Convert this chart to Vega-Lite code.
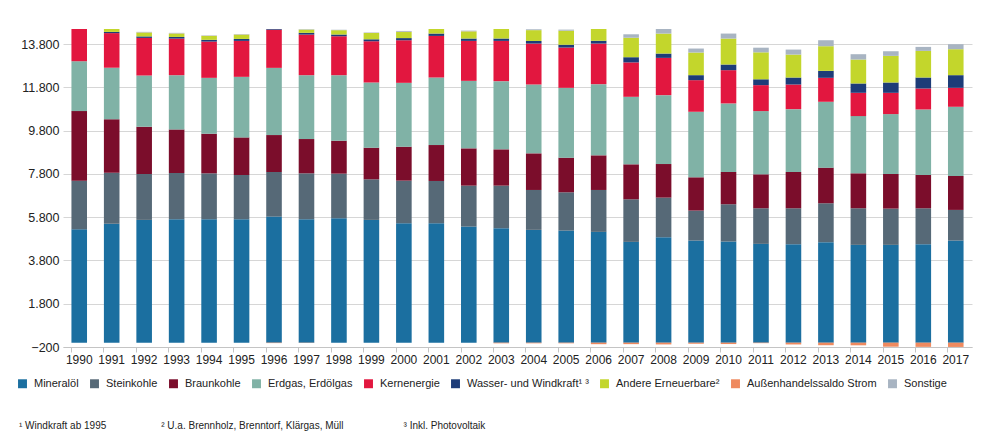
{
  "$schema": "https://vega.github.io/schema/vega-lite/v6.json",
  "width": 909,
  "height": 318,
  "autosize": {"type": "none"},
  "padding": {"left": 63, "top": 29, "right": 17, "bottom": 98},
  "background": "white",
  "config": {
    "locale": {"number": {"decimal": ",", "thousands": ".", "grouping": [3], "currency": ["", " €"]}},
    "font": "Liberation Sans, Arial, sans-serif",
    "view": {"stroke": null}
  },
  "title": {
    "text": "¹ Windkraft ab 1995\u2003\u2003\u2003\u2003\u2003\u2002² U.a. Brennholz, Brenntorf, Klärgas, Müll\u2003\u2003\u2003\u2003\u2003\u2003³ Inkl. Photovoltaik",
    "orient": "bottom",
    "anchor": "start",
    "frame": "group",
    "dx": -44,
    "offset": 32,
    "fontSize": 10,
    "fontWeight": "normal",
    "color": "#222"
  },
  "datasets": {
    "sources": [
      {"rank": 1, "source": "Mineralöl"},
      {"rank": 2, "source": "Steinkohle"},
      {"rank": 3, "source": "Braunkohle"},
      {"rank": 4, "source": "Erdgas, Erdölgas"},
      {"rank": 5, "source": "Kernenergie"},
      {"rank": 6, "source": "Wasser- und Windkraft¹ ³"},
      {"rank": 7, "source": "Andere Erneuerbare²"},
      {"rank": 8, "source": "Außenhandelssaldo Strom"},
      {"rank": 9, "source": "Sonstige"}
    ]
  },
  "data": {
    "values": [
      {"year":"1990","rank":1,"value":5240},{"year":"1990","rank":2,"value":2250},{"year":"1990","rank":3,"value":3215},{"year":"1990","rank":4,"value":2305},{"year":"1990","rank":5,"value":1668},{"year":"1990","rank":6,"value":58},{"year":"1990","rank":7,"value":140},{"year":"1990","rank":8,"value":3},{"year":"1990","rank":9,"value":25},
      {"year":"1991","rank":1,"value":5500},{"year":"1991","rank":2,"value":2350},{"year":"1991","rank":3,"value":2480},{"year":"1991","rank":4,"value":2380},{"year":"1991","rank":5,"value":1600},{"year":"1991","rank":6,"value":56},{"year":"1991","rank":7,"value":150},{"year":"1991","rank":8,"value":3},{"year":"1991","rank":9,"value":20},
      {"year":"1992","rank":1,"value":5675},{"year":"1992","rank":2,"value":2123},{"year":"1992","rank":3,"value":2184},{"year":"1992","rank":4,"value":2368},{"year":"1992","rank":5,"value":1738},{"year":"1992","rank":6,"value":70},{"year":"1992","rank":7,"value":180},{"year":"1992","rank":8,"value":5},{"year":"1992","rank":9,"value":25},
      {"year":"1993","rank":1,"value":5706},{"year":"1993","rank":2,"value":2138},{"year":"1993","rank":3,"value":2014},{"year":"1993","rank":4,"value":2507},{"year":"1993","rank":5,"value":1692},{"year":"1993","rank":6,"value":75},{"year":"1993","rank":7,"value":160},{"year":"1993","rank":8,"value":5},{"year":"1993","rank":9,"value":25},
      {"year":"1994","rank":1,"value":5706},{"year":"1994","rank":2,"value":2122},{"year":"1994","rank":3,"value":1831},{"year":"1994","rank":4,"value":2583},{"year":"1994","rank":5,"value":1677},{"year":"1994","rank":6,"value":80},{"year":"1994","rank":7,"value":180},{"year":"1994","rank":8,"value":5},{"year":"1994","rank":9,"value":20},
      {"year":"1995","rank":1,"value":5706},{"year":"1995","rank":2,"value":2046},{"year":"1995","rank":3,"value":1738},{"year":"1995","rank":4,"value":2799},{"year":"1995","rank":5,"value":1661},{"year":"1995","rank":6,"value":90},{"year":"1995","rank":7,"value":200},{"year":"1995","rank":8,"value":5},{"year":"1995","rank":9,"value":20},
      {"year":"1996","rank":1,"value":5829},{"year":"1996","rank":2,"value":2061},{"year":"1996","rank":3,"value":1707},{"year":"1996","rank":4,"value":3107},{"year":"1996","rank":5,"value":1764},{"year":"1996","rank":6,"value":80},{"year":"1996","rank":7,"value":190},{"year":"1996","rank":8,"value":-20},{"year":"1996","rank":9,"value":20},
      {"year":"1997","rank":1,"value":5706},{"year":"1997","rank":2,"value":2122},{"year":"1997","rank":3,"value":1585},{"year":"1997","rank":4,"value":2952},{"year":"1997","rank":5,"value":1877},{"year":"1997","rank":6,"value":80},{"year":"1997","rank":7,"value":150},{"year":"1997","rank":8,"value":-10},{"year":"1997","rank":9,"value":20},
      {"year":"1998","rank":1,"value":5752},{"year":"1998","rank":2,"value":2061},{"year":"1998","rank":3,"value":1523},{"year":"1998","rank":4,"value":3029},{"year":"1998","rank":5,"value":1800},{"year":"1998","rank":6,"value":80},{"year":"1998","rank":7,"value":200},{"year":"1998","rank":8,"value":0},{"year":"1998","rank":9,"value":20},
      {"year":"1999","rank":1,"value":5675},{"year":"1999","rank":2,"value":1877},{"year":"1999","rank":3,"value":1461},{"year":"1999","rank":4,"value":3014},{"year":"1999","rank":5,"value":1907},{"year":"1999","rank":6,"value":90},{"year":"1999","rank":7,"value":290},{"year":"1999","rank":8,"value":5},{"year":"1999","rank":9,"value":20},
      {"year":"2000","rank":1,"value":5521},{"year":"2000","rank":2,"value":1969},{"year":"2000","rank":3,"value":1569},{"year":"2000","rank":4,"value":2953},{"year":"2000","rank":5,"value":1968},{"year":"2000","rank":6,"value":100},{"year":"2000","rank":7,"value":280},{"year":"2000","rank":8,"value":10},{"year":"2000","rank":9,"value":40},
      {"year":"2001","rank":1,"value":5521},{"year":"2001","rank":2,"value":1954},{"year":"2001","rank":3,"value":1661},{"year":"2001","rank":4,"value":3122},{"year":"2001","rank":5,"value":1922},{"year":"2001","rank":6,"value":110},{"year":"2001","rank":7,"value":300},{"year":"2001","rank":8,"value":10},{"year":"2001","rank":9,"value":30},
      {"year":"2002","rank":1,"value":5368},{"year":"2002","rank":2,"value":1891},{"year":"2002","rank":3,"value":1723},{"year":"2002","rank":4,"value":3122},{"year":"2002","rank":5,"value":1846},{"year":"2002","rank":6,"value":110},{"year":"2002","rank":7,"value":330},{"year":"2002","rank":8,"value":5},{"year":"2002","rank":9,"value":30},
      {"year":"2003","rank":1,"value":5291},{"year":"2003","rank":2,"value":1968},{"year":"2003","rank":3,"value":1677},{"year":"2003","rank":4,"value":3153},{"year":"2003","rank":5,"value":1861},{"year":"2003","rank":6,"value":110},{"year":"2003","rank":7,"value":450},{"year":"2003","rank":8,"value":-30},{"year":"2003","rank":9,"value":40},
      {"year":"2004","rank":1,"value":5214},{"year":"2004","rank":2,"value":1845},{"year":"2004","rank":3,"value":1692},{"year":"2004","rank":4,"value":3184},{"year":"2004","rank":5,"value":1892},{"year":"2004","rank":6,"value":120},{"year":"2004","rank":7,"value":500},{"year":"2004","rank":8,"value":-30},{"year":"2004","rank":9,"value":40},
      {"year":"2005","rank":1,"value":5183},{"year":"2005","rank":2,"value":1769},{"year":"2005","rank":3,"value":1599},{"year":"2005","rank":4,"value":3230},{"year":"2005","rank":5,"value":1861},{"year":"2005","rank":6,"value":130},{"year":"2005","rank":7,"value":650},{"year":"2005","rank":8,"value":-30},{"year":"2005","rank":9,"value":50},
      {"year":"2006","rank":1,"value":5122},{"year":"2006","rank":2,"value":1937},{"year":"2006","rank":3,"value":1600},{"year":"2006","rank":4,"value":3291},{"year":"2006","rank":5,"value":1877},{"year":"2006","rank":6,"value":130},{"year":"2006","rank":7,"value":700},{"year":"2006","rank":8,"value":-70},{"year":"2006","rank":9,"value":50},
      {"year":"2007","rank":1,"value":4660},{"year":"2007","rank":2,"value":1969},{"year":"2007","rank":3,"value":1615},{"year":"2007","rank":4,"value":3122},{"year":"2007","rank":5,"value":1590},{"year":"2007","rank":6,"value":240},{"year":"2007","rank":7,"value":900},{"year":"2007","rank":8,"value":-68},{"year":"2007","rank":9,"value":160},
      {"year":"2008","rank":1,"value":4875},{"year":"2008","rank":2,"value":1830},{"year":"2008","rank":3,"value":1553},{"year":"2008","rank":4,"value":3184},{"year":"2008","rank":5,"value":1723},{"year":"2008","rank":6,"value":200},{"year":"2008","rank":7,"value":923},{"year":"2008","rank":8,"value":-81},{"year":"2008","rank":9,"value":230},
      {"year":"2009","rank":1,"value":4722},{"year":"2009","rank":2,"value":1384},{"year":"2009","rank":3,"value":1538},{"year":"2009","rank":4,"value":3030},{"year":"2009","rank":5,"value":1461},{"year":"2009","rank":6,"value":231},{"year":"2009","rank":7,"value":1046},{"year":"2009","rank":8,"value":-50},{"year":"2009","rank":9,"value":185},
      {"year":"2010","rank":1,"value":4676},{"year":"2010","rank":2,"value":1723},{"year":"2010","rank":3,"value":1492},{"year":"2010","rank":4,"value":3168},{"year":"2010","rank":5,"value":1538},{"year":"2010","rank":6,"value":261},{"year":"2010","rank":7,"value":1200},{"year":"2010","rank":8,"value":-64},{"year":"2010","rank":9,"value":231},
      {"year":"2011","rank":1,"value":4568},{"year":"2011","rank":2,"value":1646},{"year":"2011","rank":3,"value":1569},{"year":"2011","rank":4,"value":2922},{"year":"2011","rank":5,"value":1200},{"year":"2011","rank":6,"value":270},{"year":"2011","rank":7,"value":1246},{"year":"2011","rank":8,"value":-23},{"year":"2011","rank":9,"value":215},
      {"year":"2012","rank":1,"value":4552},{"year":"2012","rank":2,"value":1661},{"year":"2012","rank":3,"value":1676},{"year":"2012","rank":4,"value":2907},{"year":"2012","rank":5,"value":1138},{"year":"2012","rank":6,"value":323},{"year":"2012","rank":7,"value":1061},{"year":"2012","rank":8,"value":-83},{"year":"2012","rank":9,"value":231},
      {"year":"2013","rank":1,"value":4645},{"year":"2013","rank":2,"value":1800},{"year":"2013","rank":3,"value":1646},{"year":"2013","rank":4,"value":3045},{"year":"2013","rank":5,"value":1107},{"year":"2013","rank":6,"value":323},{"year":"2013","rank":7,"value":1138},{"year":"2013","rank":8,"value":-118},{"year":"2013","rank":9,"value":277},
      {"year":"2014","rank":1,"value":4522},{"year":"2014","rank":2,"value":1692},{"year":"2014","rank":3,"value":1615},{"year":"2014","rank":4,"value":2645},{"year":"2014","rank":5,"value":1077},{"year":"2014","rank":6,"value":431},{"year":"2014","rank":7,"value":1107},{"year":"2014","rank":8,"value":-122},{"year":"2014","rank":9,"value":246},
      {"year":"2015","rank":1,"value":4522},{"year":"2015","rank":2,"value":1676},{"year":"2015","rank":3,"value":1600},{"year":"2015","rank":4,"value":2768},{"year":"2015","rank":5,"value":984},{"year":"2015","rank":6,"value":477},{"year":"2015","rank":7,"value":1230},{"year":"2015","rank":8,"value":-186},{"year":"2015","rank":9,"value":215},
      {"year":"2016","rank":1,"value":4552},{"year":"2016","rank":2,"value":1661},{"year":"2016","rank":3,"value":1538},{"year":"2016","rank":4,"value":3030},{"year":"2016","rank":5,"value":969},{"year":"2016","rank":6,"value":508},{"year":"2016","rank":7,"value":1230},{"year":"2016","rank":8,"value":-193},{"year":"2016","rank":9,"value":185},
      {"year":"2017","rank":1,"value":4722},{"year":"2017","rank":2,"value":1415},{"year":"2017","rank":3,"value":1569},{"year":"2017","rank":4,"value":3199},{"year":"2017","rank":5,"value":877},{"year":"2017","rank":6,"value":584},{"year":"2017","rank":7,"value":1200},{"year":"2017","rank":8,"value":-197},{"year":"2017","rank":9,"value":231}
    ]
  },
  "transform": [
    {"lookup": "rank", "from": {"data": {"name": "sources"}, "key": "rank", "fields": ["source"]}}
  ],
  "mark": {"type": "bar", "clip": true},
  "encoding": {
    "x": {
      "field": "year",
      "type": "ordinal",
      "scale": {"paddingInner": 0.52, "paddingOuter": 0.26},
      "axis": {
        "title": null,
        "labelAngle": 0,
        "bandPosition": 0,
        "grid": false,
        "tickSize": 5,
        "tickColor": "#c4c4c4",
        "domainColor": "#c4c4c4",
        "labelFontSize": 12,
        "labelColor": "#222",
        "labelPadding": 2
      }
    },
    "y": {
      "field": "value",
      "type": "quantitative",
      "stack": "zero",
      "scale": {"domain": [-200, 14500], "nice": false, "zero": false},
      "axis": {
        "title": null,
        "values": [-200, 1800, 3800, 5800, 7800, 9800, 11800, 13800],
        "format": ",d",
        "domain": false,
        "ticks": false,
        "gridColor": "#d6d6d6",
        "labelFontSize": 12.5,
        "labelColor": "#222",
        "labelPadding": 4
      }
    },
    "color": {
      "field": "source",
      "type": "nominal",
      "scale": {
        "domain": ["Mineralöl", "Steinkohle", "Braunkohle", "Erdgas, Erdölgas", "Kernenergie", "Wasser- und Windkraft¹ ³", "Andere Erneuerbare²", "Außenhandelssaldo Strom", "Sonstige"],
        "range": ["#1b6fa0", "#566977", "#7b0d2b", "#80b2a6", "#e2173f", "#1d3c78", "#c3d62c", "#ef8a5f", "#a8b4c2"]
      },
      "legend": {
        "orient": "none",
        "legendX": -46,
        "legendY": 349,
        "direction": "horizontal",
        "columns": 9,
        "title": null,
        "symbolType": "square",
        "symbolSize": 80,
        "symbolStrokeWidth": 0,
        "labelFontSize": 11,
        "labelColor": "#222",
        "columnPadding": 10,
        "labelOffset": 6
      }
    },
    "order": {"field": "rank", "type": "quantitative"}
  }
}
